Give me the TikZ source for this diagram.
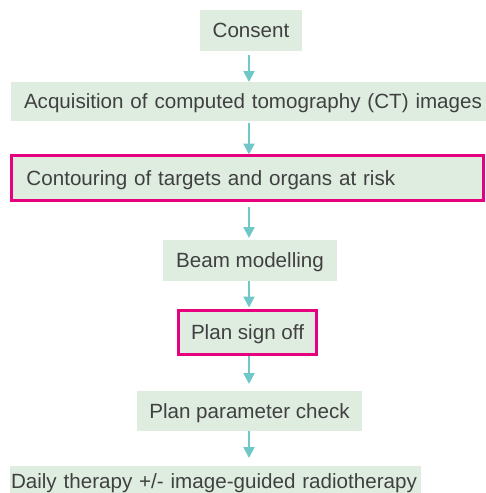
\documentclass[tikz,border=0pt]{standalone}
\usepackage{fontspec}
\setmainfont{Liberation Sans}
\usetikzlibrary{arrows.meta}
\definecolor{boxfill}{HTML}{DFEDE1}
\definecolor{hilite}{HTML}{E6007E}
\definecolor{arrowc}{HTML}{6FC7C8}
\definecolor{txt}{HTML}{404040}
\tikzset{
  stepbox/.style={fill=boxfill, draw=none, text=txt, inner ysep=0pt, outer sep=0pt,
    font=\fontsize{20.6}{24}\selectfont, text height=14.8pt, text depth=0pt},
  hibox/.style={stepbox, draw=hilite, line width=3pt},
  arr/.style={draw=arrowc, line width=2.2pt, -{Triangle[width=11pt,length=11pt]}},
}
\begin{document}
\begin{tikzpicture}[x=1pt,y=-1pt]
\useasboundingbox (0,0) rectangle (486,493);
\begin{scope}
\clip (0,0) rectangle (486,493);
\node[stepbox, minimum width=102pt, minimum height=41pt] (consent) at (251,30.5) {Consent};
\node[stepbox, minimum width=475pt, minimum height=39pt, text width=449pt, align=left, inner xsep=13pt] (acq) at (248.5,101.5) {\mbox{Acquisition of computed tomography (CT) images}};
\node[hibox, minimum width=472pt, minimum height=45pt, text width=442pt, align=left, inner xsep=15pt] (cont) at (247.5,178) {\mbox{Contouring of targets and organs at risk}};
\node[stepbox, minimum width=174pt, minimum height=41pt] (beam) at (250,260.5) {Beam modelling};
\node[hibox, minimum width=138pt, minimum height=44pt] (sign) at (247.5,332.5) {Plan sign off};
\node[stepbox, minimum width=225pt, minimum height=40pt] (check) at (249.5,411) {Plan parameter check};
\node[stepbox, minimum width=411pt, minimum height=30pt, text width=409pt, align=left, inner xsep=1pt] (daily) at (215.5,481) {\mbox{Daily therapy +/- image-guided radiotherapy}};
\end{scope}
\coordinate (ax) at (249,0);
\draw[arr, shorten <=4pt] (consent.south -| ax) -- (acq.north -| ax);
\draw[arr, shorten <=2pt, shorten >=1pt] (acq.south -| ax) -- (cont.north -| ax);
\draw[arr, shorten <=6pt, shorten >=2pt] (cont.south -| ax) -- (beam.north -| ax);
\draw[arr, shorten >=3pt] (beam.south -| ax) -- (sign.north -| ax);
\draw[arr, shorten <=1pt, shorten >=7pt] (sign.south -| ax) -- (check.north -| ax);
\draw[arr, shorten >=8pt] (check.south -| ax) -- (daily.north -| ax);
\end{tikzpicture}
\end{document}
